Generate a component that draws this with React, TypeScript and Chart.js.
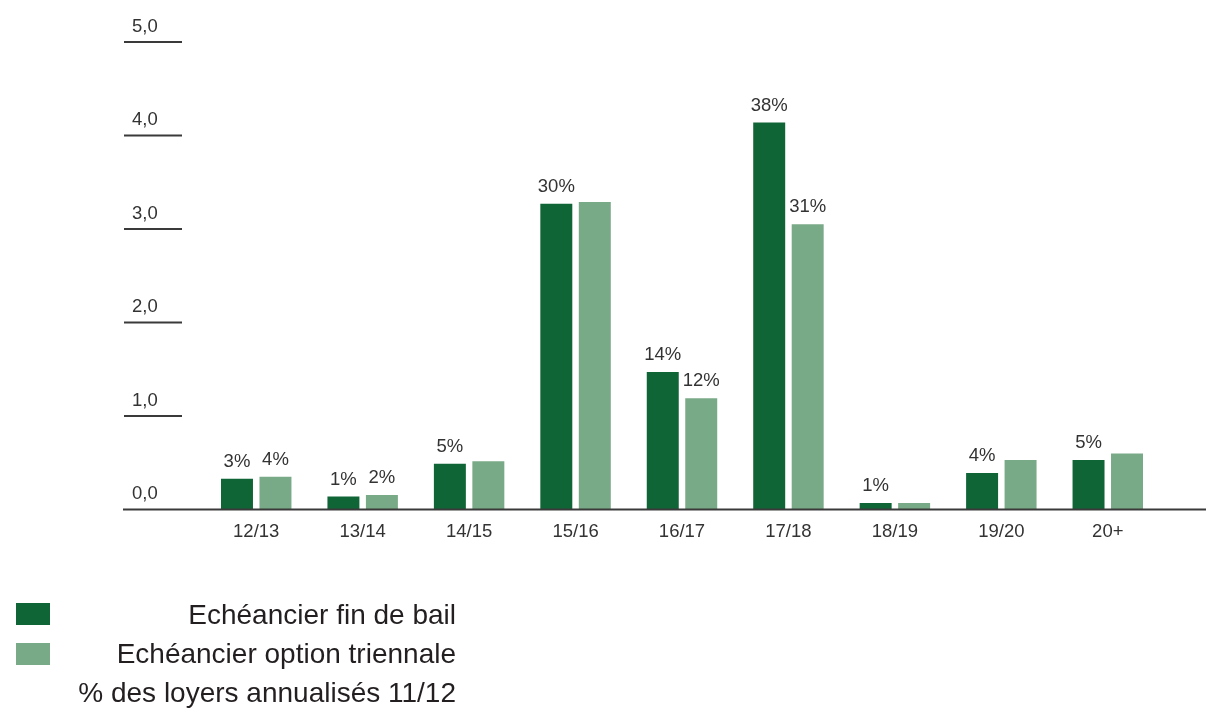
import React, { useEffect, useRef } from "react";
import { Chart, registerables } from "chart.js";

Chart.register(...registerables);

const categories = ["12/13", "13/14", "14/15", "15/16", "16/17", "17/18", "18/19", "19/20", "20+"];
const finDeBail = [0.33, 0.14, 0.49, 3.27, 1.47, 4.14, 0.07, 0.39, 0.53];
const optionTriennale = [0.35, 0.155, 0.515, 3.29, 1.19, 3.05, 0.07, 0.53, 0.6];
const finDeBailLabels = ["3%", "1%", "5%", "30%", "14%", "38%", "1%", "4%", "5%"];
const optionTriennaleLabels = ["4%", "2%", "", "", "12%", "31%", "", "", ""];
const yTickValues = [0, 1, 2, 3, 4, 5];
const yTickLabels = ["0,0", "1,0", "2,0", "3,0", "4,0", "5,0"];
const legendLabels = ["Echéancier fin de bail", "Echéancier option triennale", "% des loyers annualisés 11/12"];

const DARK = "#106536";
const LIGHT = "#78aa87";
const TEXT = "#333333";
const FONT = "'Liberation Sans', Arial, Helvetica, sans-serif";
const FS = 18.5;

const overlayPlugin = {
  id: "overlay",
  afterDraw(chart: any) {
    const ctx = chart.ctx;
    const y = chart.scales.y;
    ctx.save();
    ctx.font = `${FS}px ${FONT}`;
    ctx.fillStyle = TEXT;
    ctx.textAlign = "left";
    ctx.textBaseline = "middle";
    yTickValues.forEach((v, i) => {
      const py = y.getPixelForValue(v);
      if (v > 0) {
        ctx.strokeStyle = "#3a3a3a";
        ctx.lineWidth = 2;
        ctx.beginPath();
        ctx.moveTo(124, py);
        ctx.lineTo(182, py);
        ctx.stroke();
      }
      ctx.fillText(yTickLabels[i], 132, py - 15.5);
    });
    const p0 = y.getPixelForValue(0);
    ctx.strokeStyle = "#3a3a3a";
    ctx.lineWidth = 2;
    ctx.beginPath();
    ctx.moveTo(123, p0);
    ctx.lineTo(1206, p0);
    ctx.stroke();
    ctx.textAlign = "center";
    const labelSets = [finDeBailLabels, optionTriennaleLabels];
    chart.data.datasets.forEach((_ds: any, di: number) => {
      const meta = chart.getDatasetMeta(di);
      meta.data.forEach((el: any, i: number) => {
        const t = labelSets[di][i];
        if (t) ctx.fillText(t, el.x, el.y - 17);
      });
    });
    ctx.restore();
  },
};

export default function App() {
  const ref = useRef<HTMLCanvasElement | null>(null);
  useEffect(() => {
    if (!ref.current) return;
    const chart = new Chart(ref.current, {
      type: "bar",
      data: {
        labels: categories,
        datasets: [
          {
            label: legendLabels[0],
            data: finDeBail,
            backgroundColor: DARK,
            categoryPercentage: 0.723,
            barPercentage: 0.831,
          },
          {
            label: legendLabels[1],
            data: optionTriennale,
            backgroundColor: LIGHT,
            categoryPercentage: 0.723,
            barPercentage: 0.831,
          },
        ],
      },
      options: {
        animation: false,
        responsive: true,
        maintainAspectRatio: false,
        layout: { padding: { left: 203, right: 45, top: 42, bottom: 156.5 } },
        plugins: { legend: { display: false }, tooltip: { enabled: false } },
        scales: {
          x: {
            grid: { display: false, drawTicks: false },
            border: { display: false },
            ticks: { color: TEXT, font: { family: FONT, size: FS }, padding: 11.4 },
          },
          y: { display: false, min: 0, max: 5 },
        },
      },
      plugins: [overlayPlugin],
    });
    return () => chart.destroy();
  }, []);

  const lineStyle: React.CSSProperties = {
    height: 39,
    lineHeight: "39px",
    whiteSpace: "nowrap",
  };

  return (
    <div style={{ position: "fixed", left: 0, top: 0, width: 1206, height: 711, background: "#fff" }}>
      <canvas ref={ref} />
      <div style={{ position: "absolute", left: 16, top: 603, width: 34, height: 22, background: DARK }} />
      <div style={{ position: "absolute", left: 16, top: 643, width: 34, height: 22, background: LIGHT }} />
      <div
        style={{
          position: "absolute",
          left: 0,
          top: 594.5,
          width: 456,
          textAlign: "right",
          fontFamily: FONT,
          fontSize: 28,
          color: "#231f20",
        }}
      >
        {legendLabels.map((t) => (
          <div key={t} style={lineStyle}>
            {t}
          </div>
        ))}
      </div>
    </div>
  );
}
